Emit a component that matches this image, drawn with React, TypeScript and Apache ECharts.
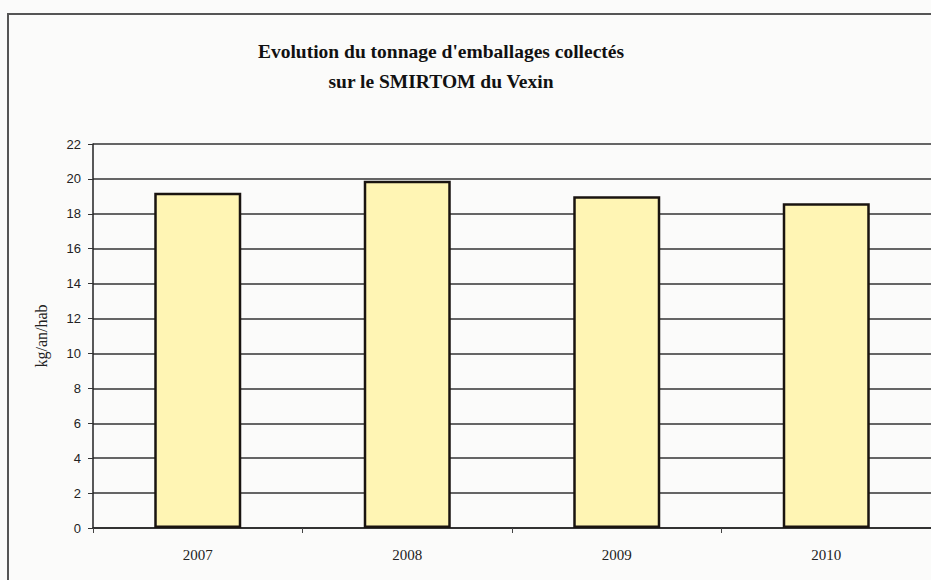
import React, { useEffect, useRef } from "react";
import * as echarts from "echarts";

const categories = ["2007", "2008", "2009", "2010"];
const values = [19.2, 19.9, 19.0, 18.6];
const titleLines = ["Evolution du tonnage d'emballages collectés", "sur le SMIRTOM du Vexin"];
const yAxisName = "kg/an/hab";

export default function App() {
  const ref = useRef<HTMLDivElement>(null);
  useEffect(() => {
    document.body.style.margin = "0";
    const chart = echarts.init(ref.current!, null, { renderer: "svg" });
    chart.setOption({
      animation: false,
      backgroundColor: "#fbfbfa",
      title: {
        text: titleLines.join("\n"),
        left: 436,
        top: 31,
        textAlign: "center",
        textStyle: {
          fontFamily: "Liberation Serif",
          fontWeight: "bold",
          fontSize: 19.5,
          lineHeight: 30,
          color: "#111",
        },
      },
      graphic: [
        {
          type: "rect",
          shape: { x: 8, y: 14, width: 1000, height: 1000 },
          style: { fill: "none", stroke: "#555", lineWidth: 2 },
          silent: true,
        },
      ],
      grid: { left: 93, top: 144, width: 843, height: 384 },
      xAxis: {
        type: "category",
        data: categories,
        axisLine: { lineStyle: { color: "#222", width: 1.5 } },
        axisTick: { show: true, length: 5, alignWithLabel: false, lineStyle: { color: "#444" } },
        axisLabel: {
          margin: 19,
          fontFamily: "Liberation Serif",
          fontSize: 15,
          color: "#222",
        },
      },
      yAxis: {
        type: "value",
        min: 0,
        max: 22,
        interval: 2,
        name: yAxisName,
        nameLocation: "middle",
        nameGap: 44,
        nameTextStyle: { fontFamily: "Liberation Serif", fontSize: 16, color: "#222" },
        axisLine: { show: true, lineStyle: { color: "#222", width: 1.5 } },
        axisTick: { show: true, length: 5, lineStyle: { color: "#333" } },
        axisLabel: {
          margin: 12,
          fontFamily: "Liberation Sans",
          fontSize: 13,
          color: "#222",
        },
        splitLine: { show: true, lineStyle: { color: "#333", width: 1.5 } },
      },
      series: [
        {
          type: "bar",
          data: values,
          barWidth: 87,
          itemStyle: { color: "#fff5b4", borderColor: "#1a1410", borderWidth: 2.5 },
        },
      ],
    });
    return () => chart.dispose();
  }, []);
  return <div ref={ref} style={{ width: 931, height: 580 }} />;
}
